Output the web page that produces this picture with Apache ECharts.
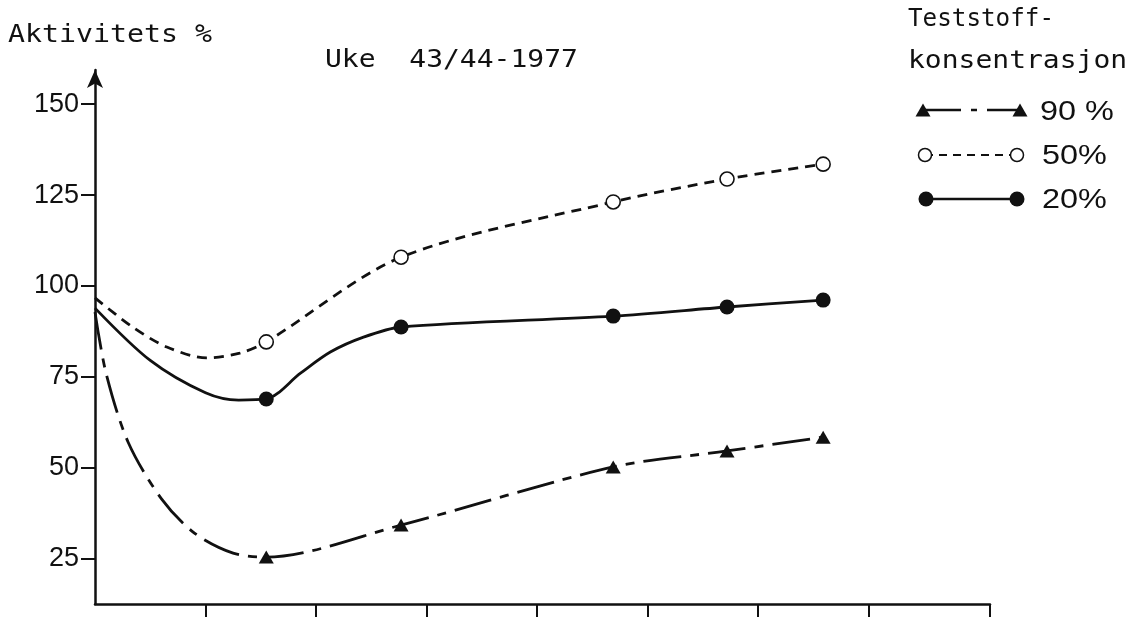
<!DOCTYPE html>
<html>
<head>
<meta charset="utf-8">
<script src="https://cdn.jsdelivr.net/npm/echarts@6/dist/echarts.min.js"></script>
<style>
html,body{margin:0;padding:0;background:#fff;}
#chart{width:1136px;height:617px;}
</style>
</head>
<body>
<div id="chart"></div>
<script>
// ---- data ----
const xMarks = [1.55, 2.77, 4.69, 5.72, 6.59];          // x positions of plotted markers
const v90 = [25.4, 34.2, 50.2, 54.6, 58.4];             // 90 % concentration
const v50 = [84.6, 107.9, 123.1, 129.4, 133.5];         // 50 % concentration
const v20 = [68.9, 88.7, 91.7, 94.2, 96.1];             // 20 % concentration
// unmarked points
const curve90 = [[0, 92.8], [0.1, 76], [0.3, 57], [0.6, 41.5], [0.9, 32], [1.25, 26.5]];
const curve50 = [[0, 96.7], [0.34, 88.7], [0.65, 83.2], [1.01, 80.2], [1.31, 81.5]];
const curve20 = [[0, 93.9], [0.5, 79.5], [1.0, 70.6], [1.3, 68.6], [1.86, 76.0], [2.13, 81.8], [2.43, 85.9]];
const xTickValues = [1, 2, 3, 4, 5, 6, 7, 8.1];
const yTickValues = [25, 50, 75, 100, 125, 150];
const seriesNames = ['90 %', '50%', '20%'];
const yTitle = 'Aktivitets %';
const chartTitle = 'Uke  43/44-1977';
const legendTitle1 = 'Teststoff-';
const legendTitle2 = 'konsentrasjon';

const INK = '#111111';

function build(curve, vals) {
  const pts = curve.map(p => ({ value: p, symbol: 'none' }))
    .concat(xMarks.map((x, i) => ({ value: [x, vals[i]] })));
  pts.sort((a, b) => a.value[0] - b.value[0]);
  return pts;
}

const chart = echarts.init(document.getElementById('chart'), null, { renderer: 'canvas' });

const titleFont = { fontFamily: 'DejaVu Sans Mono', fontSize: 25, fill: INK };
const legFont = { fontFamily: 'Liberation Sans', fontSize: 27, fill: INK };

function tri(cx, cy) {
  return { type: 'polygon', shape: { points: [[cx - 7.5, cy + 6.5], [cx + 7.5, cy + 6.5], [cx, cy - 6.5]] }, style: { fill: INK } };
}

const option = {
  animation: false,
  backgroundColor: '#fff',
  grid: { left: 95, right: 146, top: 70, bottom: 13 },
  xAxis: {
    type: 'value', min: 0, max: 8.1,
    axisLine: { show: true, onZero: false, lineStyle: { color: INK, width: 2.5 } },
    axisTick: { show: true, customValues: xTickValues, length: 14, lineStyle: { color: INK, width: 2 } },
    axisLabel: { show: false },
    splitLine: { show: false }
  },
  yAxis: {
    type: 'value', min: 12.5, max: 159.4,
    axisLine: { show: true, symbol: ['none', 'arrow'], symbolSize: [12, 18], lineStyle: { color: INK, width: 2.5 } },
    axisTick: { show: true, customValues: yTickValues, length: 14, lineStyle: { color: INK, width: 2 } },
    axisLabel: { customValues: yTickValues, fontSize: 27, fontFamily: 'Liberation Sans', color: INK, margin: 16 },
    splitLine: { show: false }
  },
  series: [
    {
      name: seriesNames[0], type: 'line', smooth: 0.3,
      data: build(curve90, v90),
      symbol: 'triangle', symbolSize: [15, 13],
      itemStyle: { color: INK },
      lineStyle: { color: INK, width: 2.8, type: [38, 9, 9, 9] },
      emphasis: { disabled: true }
    },
    {
      name: seriesNames[1], type: 'line', smooth: 0.3,
      data: build(curve50, v50),
      symbol: 'circle', symbolSize: 14,
      itemStyle: { color: '#fff', borderColor: INK, borderWidth: 1.6 },
      lineStyle: { color: INK, width: 2.8, type: [10, 7] },
      emphasis: { disabled: true }
    },
    {
      name: seriesNames[2], type: 'line', smooth: 0.3,
      data: build(curve20, v20),
      symbol: 'circle', symbolSize: 15,
      itemStyle: { color: INK },
      lineStyle: { color: INK, width: 2.8, type: 'solid' },
      emphasis: { disabled: true }
    }
  ],
  graphic: [
    { type: 'text', x: 8, y: 35, scaleX: 1.13, style: Object.assign({ text: yTitle, textVerticalAlign: 'middle' }, titleFont) },
    { type: 'text', x: 325, y: 60, scaleX: 1.12, style: Object.assign({ text: chartTitle, textVerticalAlign: 'middle' }, titleFont) },
    { type: 'text', x: 908, y: 19, scaleX: 0.97, style: Object.assign({ text: legendTitle1, textVerticalAlign: 'middle' }, titleFont) },
    { type: 'text', x: 908, y: 61, scaleX: 1.12, style: Object.assign({ text: legendTitle2, textVerticalAlign: 'middle' }, titleFont) },
    // legend row 90 %
    { type: 'line', shape: { x1: 923, y1: 110, x2: 1020, y2: 110 }, style: { stroke: INK, lineWidth: 2.4, lineDash: [38, 10, 6, 10] } },
    tri(923, 110), tri(1020, 110),
    { type: 'text', x: 1040, y: 113, scaleX: 1.2, style: Object.assign({ text: seriesNames[0], textVerticalAlign: 'middle' }, legFont) },
    // legend row 50 %
    { type: 'line', shape: { x1: 925, y1: 155, x2: 1017, y2: 155 }, style: { stroke: INK, lineWidth: 2, lineDash: [8, 6] } },
    { type: 'circle', shape: { cx: 925, cy: 155, r: 6.5 }, style: { fill: '#fff', stroke: INK, lineWidth: 1.5 } },
    { type: 'circle', shape: { cx: 1017, cy: 155, r: 6.5 }, style: { fill: '#fff', stroke: INK, lineWidth: 1.5 } },
    { type: 'text', x: 1042, y: 157, scaleX: 1.2, style: Object.assign({ text: seriesNames[1], textVerticalAlign: 'middle' }, legFont) },
    // legend row 20 %
    { type: 'line', shape: { x1: 926, y1: 199, x2: 1017, y2: 199 }, style: { stroke: INK, lineWidth: 2.4 } },
    { type: 'circle', shape: { cx: 926, cy: 199, r: 7.5 }, style: { fill: INK } },
    { type: 'circle', shape: { cx: 1017, cy: 199, r: 7.5 }, style: { fill: INK } },
    { type: 'text', x: 1042, y: 201, scaleX: 1.2, style: Object.assign({ text: seriesNames[2], textVerticalAlign: 'middle' }, legFont) }
  ]
};

chart.setOption(option);
</script>
</body>
</html>
